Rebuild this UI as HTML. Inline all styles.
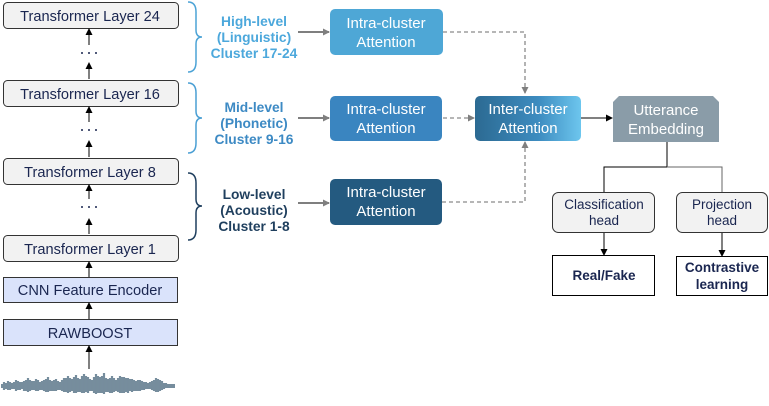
<!DOCTYPE html>
<html><head><meta charset="utf-8"><style>
html,body{margin:0;padding:0;background:#fff;width:769px;height:406px;overflow:hidden}
svg{display:block}
text{font-family:"Liberation Sans",sans-serif}
</style></head><body>
<svg width="769" height="406" viewBox="0 0 769 406" xmlns="http://www.w3.org/2000/svg">
<defs>
<marker id="ab" markerWidth="7" markerHeight="7" refX="6" refY="3.5" orient="auto" markerUnits="userSpaceOnUse"><path d="M0,0 L7,3.5 L0,7 z" fill="#000"/></marker>
<marker id="ag" markerWidth="7" markerHeight="7" refX="6" refY="3.5" orient="auto" markerUnits="userSpaceOnUse"><path d="M0,0 L7,3.5 L0,7 z" fill="#7f7f7f"/></marker>
<linearGradient id="gi" x1="0" y1="0" x2="1" y2="0"><stop offset="0" stop-color="#2c6a92"/><stop offset="0.6" stop-color="#3d8cc0"/><stop offset="1" stop-color="#6dc6ee"/></linearGradient>
</defs>
<g stroke="#333" stroke-width="1" fill="#f2f2f2">
<rect x="3.5" y="2.5" width="175" height="26" rx="4"/>
<rect x="3.5" y="80.5" width="175" height="26" rx="4"/>
<rect x="3.5" y="158.5" width="175" height="26" rx="4"/>
<rect x="3.5" y="235.5" width="175" height="26" rx="4"/>
<rect x="3.5" y="277.5" width="174" height="25" fill="#dae3fb"/>
<rect x="3.5" y="319.5" width="174" height="26" fill="#dae3fb"/>
</g>
<g fill="#1a2650" font-size="14.6" text-anchor="middle">
<text x="90" y="21">Transformer Layer 24</text>
<text x="90" y="99">Transformer Layer 16</text>
<text x="90" y="177">Transformer Layer 8</text>
<text x="90" y="254">Transformer Layer 1</text>
<text x="90" y="295">CNN Feature Encoder</text>
<text x="90" y="338">RAWBOOST</text>
</g>
<g fill="#1a2650">
<circle cx="82" cy="53" r="1"/><circle cx="89" cy="53" r="1"/><circle cx="96" cy="53" r="1"/>
<circle cx="82" cy="130" r="1"/><circle cx="89" cy="130" r="1"/><circle cx="96" cy="130" r="1"/>
<circle cx="82" cy="207" r="1"/><circle cx="89" cy="207" r="1"/><circle cx="96" cy="207" r="1"/>
</g>
<g stroke="#000" stroke-width="1" marker-end="url(#ab)">
<line x1="89" y1="45" x2="89" y2="29"/><line x1="89" y1="79" x2="89" y2="63"/>
<line x1="89" y1="122" x2="89" y2="107"/><line x1="89" y1="157" x2="89" y2="141"/>
<line x1="89" y1="199" x2="89" y2="185"/><line x1="89" y1="234" x2="89" y2="219"/>
<line x1="89" y1="277" x2="89" y2="262"/><line x1="89" y1="319" x2="89" y2="303"/>
<line x1="89" y1="369" x2="89" y2="346"/>
</g>
<g stroke="#5f7a8c" stroke-width="2.2" opacity="0.85">
<line x1="1" y1="386" x2="175" y2="386" stroke-width="4"/>
<path d="M4,382v8M8,381v9M12,383v6M16,380v11M20,382v8M24,381v10M28,378v14M32,381v9M36,379v12M40,382v8M44,380v11M48,377v15M52,381v10M56,379v12M60,382v8M64,378v14M68,376v17M72,379v12M76,375v18M80,379v13M84,374v19M88,377v16M92,380v11M96,374v20M100,377v16M104,373v21M108,379v13M112,376v17M116,380v11M120,376v17M124,377v16M128,378v15M132,379v13M136,381v10M140,380v11M144,382v8M148,383v6M152,381v9M156,378v14M160,380v11M164,383v6M168,384v4M172,385v2"/>
<path d="M6,383v6M10,382v8M14,382v7M18,381v9M22,382v7M26,380v11M30,380v11M34,381v9M38,380v11M42,381v9M46,379v13M50,380v11M54,380v11M58,381v9M62,380v11M66,378v14M70,378v14M74,377v16M78,378v14M82,376v17M86,376v16M90,379v12M94,377v16M98,376v17M102,376v17M106,378v14M110,378v15M114,378v14M118,378v14M122,377v16M126,378v14M130,379v12M134,380v11M138,380v11M142,381v9M146,382v7M150,382v7M154,380v11M158,379v13M162,381v9M166,383v5M170,384v3"/>
</g>
<path d="M188,2 Q196,2 196,12 L196,30 Q196,37 202,37 Q196,37 196,44 L196,62 Q196,72 188,72" fill="none" stroke="#4ca3d6" stroke-width="1.5"/>
<path d="M188,83 Q196,83 196,93 L196,111 Q196,118 202,118 Q196,118 196,125 L196,143 Q196,153 188,153" fill="none" stroke="#4a9fd4" stroke-width="1.5"/>
<path d="M188,173 Q196,173 196,183 L196,199 Q196,206 202,206 Q196,206 196,213 L196,230 Q196,240 188,240" fill="none" stroke="#1f3f5e" stroke-width="1.5"/>
<g font-size="13.8" font-weight="bold" text-anchor="middle">
<g fill="#4ca8dc"><text x="254" y="26">High-level</text><text x="254" y="42">(Linguistic)</text><text x="254" y="58">Cluster 17-24</text></g>
<g fill="#3d8ac4"><text x="254" y="112">Mid-level</text><text x="254" y="128">(Phonetic)</text><text x="254" y="144">Cluster 9-16</text></g>
<g fill="#1f3f5e"><text x="254" y="199">Low-level</text><text x="254" y="215">(Acoustic)</text><text x="254" y="231">Cluster 1-8</text></g>
</g>
<g stroke="#7f7f7f" stroke-width="2" marker-end="url(#ag)">
<line x1="298" y1="32" x2="329" y2="32"/><line x1="298" y1="118" x2="329" y2="118"/><line x1="298" y1="203" x2="329" y2="203"/>
</g>
<rect x="330" y="9" width="113" height="46" rx="5" fill="#4ea7d6"/>
<rect x="330" y="96" width="112" height="45" rx="5" fill="#3a85c0"/>
<rect x="330" y="179" width="112" height="46" rx="5" fill="#245a80"/>
<g fill="#fff" font-size="15" text-anchor="middle">
<text x="386" y="28">Intra-cluster</text><text x="386" y="47">Attention</text>
<text x="386" y="114">Intra-cluster</text><text x="386" y="133">Attention</text>
<text x="386" y="197">Intra-cluster</text><text x="386" y="216">Attention</text>
</g>
<g fill="none" stroke="#8a8a8a" stroke-width="1.3" stroke-dasharray="4,3">
<polyline points="443,32 525,32 525,93" marker-end="url(#ag)"/>
<line x1="443" y1="118" x2="474" y2="118" marker-end="url(#ag)"/>
<polyline points="442,202 525,202 525,142" marker-end="url(#ag)"/>
</g>
<rect x="475" y="96" width="106" height="45" rx="5" fill="url(#gi)"/>
<text x="528" y="114" fill="#fff" font-size="15" text-anchor="middle">Inter-cluster</text>
<text x="528" y="133" fill="#fff" font-size="15" text-anchor="middle">Attention</text>
<line x1="581" y1="118" x2="612" y2="118" stroke="#000" stroke-width="1" marker-end="url(#ab)"/>
<path d="M619,96 L713,96 L719,102 L719,142 L613,142 L613,102 Z" fill="#8a9ca8"/>
<text x="666" y="115" fill="#fff" font-size="15" text-anchor="middle">Utterance</text>
<text x="666" y="134" fill="#fff" font-size="15" text-anchor="middle">Embedding</text>
<polyline points="667,142 667,167 604,167 604,192" fill="none" stroke="#000" stroke-width="1"/>
<polyline points="667,167 722,167 722,192" fill="none" stroke="#666" stroke-width="1"/>
<rect x="552.5" y="192.5" width="102" height="40" rx="6" fill="#f2f2f2" stroke="#333"/>
<rect x="676.5" y="192.5" width="91" height="40" rx="6" fill="#f2f2f2" stroke="#333"/>
<g fill="#1a2650" font-size="13.5" text-anchor="middle">
<text x="604" y="209">Classification</text><text x="604" y="225">head</text>
<text x="722" y="209">Projection</text><text x="722" y="225">head</text>
</g>
<g stroke="#000" stroke-width="1" marker-end="url(#ab)">
<line x1="604" y1="233" x2="604" y2="255"/><line x1="722" y1="233" x2="722" y2="256"/>
</g>
<rect x="552.5" y="255.5" width="102" height="40" fill="#fff" stroke="#000"/>
<rect x="676.5" y="256.5" width="91" height="39" fill="#fff" stroke="#000"/>
<g fill="#1a2650" font-size="13.5" font-weight="bold" text-anchor="middle">
<text x="604" y="280">Real/Fake</text>
<text x="722" y="272">Contrastive</text><text x="722" y="289">learning</text>
</g>
</svg>
</body></html>
